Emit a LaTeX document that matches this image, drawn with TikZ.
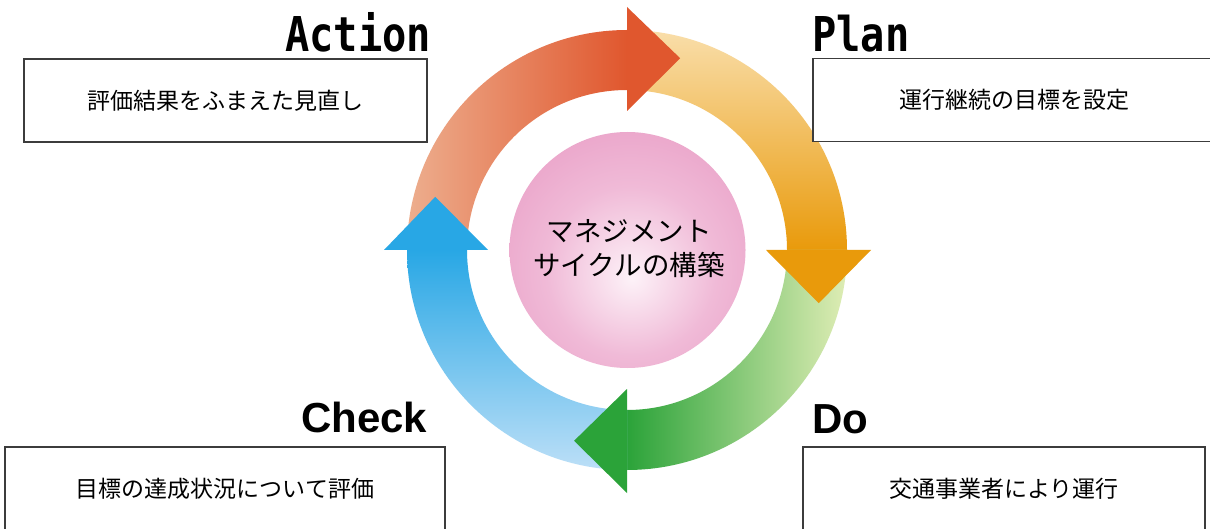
\documentclass[tikz,border=0pt]{standalone}
\usepackage{fontspec}
\usepackage{graphicx}
\newfontfamily\jp{Noto Sans CJK JP}
\newfontfamily\monob{DejaVu Sans Mono}
\newfontfamily\arialb{Liberation Sans}
\definecolor{boxgray}{HTML}{3C3C3C}
\definecolor{redL}{HTML}{EDAE8E}
\definecolor{redD}{HTML}{E0572E}
\definecolor{orgL}{HTML}{F9DEAA}
\definecolor{orgD}{HTML}{E99A0B}
\definecolor{grnL}{HTML}{DFEDB5}
\definecolor{grnD}{HTML}{2BA339}
\definecolor{bluL}{HTML}{BCDFF7}
\definecolor{bluD}{HTML}{28A7E5}
\definecolor{pinkC}{HTML}{FDF2F8}
\definecolor{pinkM}{HTML}{F0BAD7}
\definecolor{pinkE}{HTML}{E388B8}
\pgfdeclareradialshading{pinkball}{\pgfpoint{1bp}{-6bp}}{color(0bp)=(pinkC); color(18bp)=(pinkM); color(48bp)=(pinkE); color(70bp)=(pinkE)}
\begin{document}
\begin{tikzpicture}[x=1pt,y=1pt,
  lbox/.style={draw=boxgray, line width=1.2pt, fill=white, minimum width=#1, minimum height=83pt, inner sep=0pt, font=\jp\fontsize{23}{23}\selectfont},
  plabel/.style={anchor=base west, inner sep=0pt, text=black},
  monolabel/.style={plabel, font=\monob\bfseries\fontsize{48}{48}\selectfont},
  sanslabel/.style={plabel, font=\arialb\bfseries\fontsize{42}{42}\selectfont}]
\useasboundingbox (0,0) rectangle (1210,528);
\fill[white] (0,0) rectangle (1210,528);
% cycle arrows
\begin{scope}[shift={(627,278)}]
  % bodies
  \path[left color=redL, right color=redD] (180:220) arc[start angle=180, end angle=90, radius=220] -- (90:160) arc[start angle=90, end angle=180, radius=160] -- cycle;
  \path[top color=orgL, bottom color=orgD] (90:220) arc[start angle=90, end angle=0, radius=220] -- (0:160) arc[start angle=0, end angle=90, radius=160] -- cycle;
  \path[left color=grnD, right color=grnL] (0:220) arc[start angle=0, end angle=-90, radius=220] -- (-90:160) arc[start angle=-90, end angle=0, radius=160] -- cycle;
  \path[top color=bluD, bottom color=bluL] (270:220) arc[start angle=270, end angle=180, radius=220] -- (180:160) arc[start angle=180, end angle=270, radius=160] -- cycle;
  % heads
  \fill[redD] (90:243) -- (74.5:199) -- (90:139) -- cycle;
  \fill[orgD] (0:244) -- (-15.5:199) -- (0:139) -- cycle;
  \fill[grnD] (-90:243) -- (-105.5:198) -- (-90:139) -- cycle;
  \fill[bluD] (180:243) -- (164.5:199) -- (180:139) -- cycle;
\end{scope}
% centre
\node[circle, minimum size=236pt, inner sep=0pt, shade, shading=pinkball] (core) at (627.5,278) {};
\node[font=\jp\fontsize{27.5}{34}\selectfont, align=center, inner sep=0pt] (coretext) at (629,279) {マネジメント\\サイクルの構築};
% boxes
\node[lbox=403pt] (actbox) at (225.5,427.5) {評価結果をふまえた見直し};
\node[lbox=403pt] (planbox) at (1014.5,428) {運行継続の目標を設定};
\node[lbox=440pt, text height=18pt, text depth=-1pt] (checkbox) at (225,39.5) {目標の達成状況について評価};
\node[lbox=402pt, text height=18pt, text depth=-1pt] (dobox) at (1004,39.5) {交通事業者により運行};
% labels
\node[monolabel] (action) at (285,476) {\scalebox{0.84}[1]{Action}};
\node[monolabel] (plan) at (812,476) {\scalebox{0.84}[1]{Plan}};
\node[sanslabel] (check) at (301,96) {Check};
\node[sanslabel] (do) at (812,95) {Do};
\end{tikzpicture}
\end{document}
